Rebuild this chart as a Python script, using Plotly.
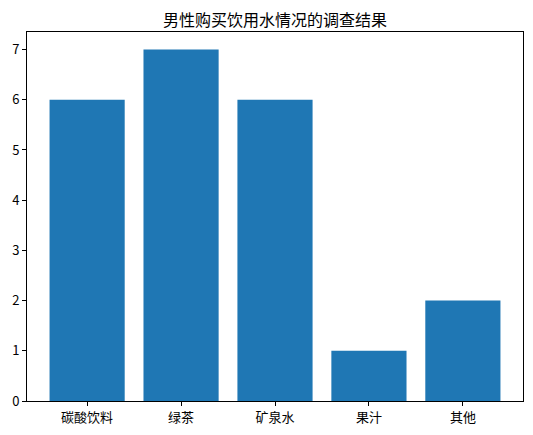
import plotly.graph_objects as go

categories = ["碳酸饮料", "绿茶", "矿泉水", "果汁", "其他"]
counts = [6, 7, 6, 1, 2]

title_text = "男性购买饮用水情况的调查结果"

fig = go.Figure(
    go.Bar(
        x=list(range(len(categories))),
        y=counts,
        width=0.8,
        marker=dict(color="#1f77b4", line=dict(width=0)),
    )
)

axis_common = dict(
    showline=True,
    linecolor="black",
    linewidth=1,
    mirror=True,
    ticks="outside",
    ticklen=4,
    tickcolor="black",
    showgrid=False,
    zeroline=False,
    automargin=False,
    tickfont=dict(size=13, color="black"),
)

fig.update_xaxes(
    range=[-0.64, 4.64],
    tickvals=list(range(len(categories))),
    ticktext=categories,
    **axis_common,
)
fig.update_yaxes(range=[0, 7.35], dtick=1, **axis_common)

# page body has an 8px margin, so the figure is sized to the visible area
fig.update_layout(
    width=525,
    height=427,
    margin=dict(l=19, r=10, t=24, b=34, autoexpand=False),
    plot_bgcolor="white",
    paper_bgcolor="white",
    font=dict(family="Noto Sans CJK SC, sans-serif", color="black"),
    title=dict(
        text=title_text,
        x=0.5,
        xref="paper",
        xanchor="center",
        y=1 - 12 / 427,
        yref="container",
        yanchor="middle",
        font=dict(size=16),
    ),
    showlegend=False,
)

fig.write_html("out.html")
